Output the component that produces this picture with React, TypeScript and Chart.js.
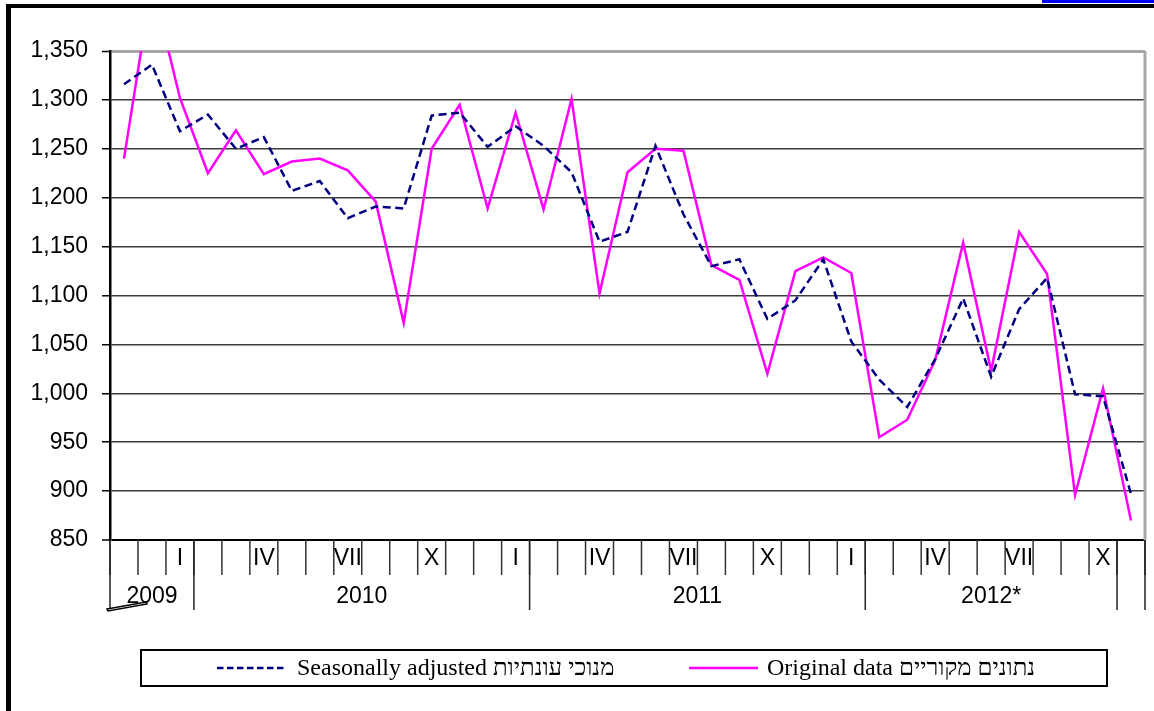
import React, { useEffect, useRef } from 'react';
import { Chart, registerables } from 'chart.js';

Chart.register(...registerables);

// Month position labels (roman numerals every third month)
const monthLabels: string[] = [
  '', '', 'I', '', '', 'IV', '', '', 'VII', '', '', 'X',
  '', '', 'I', '', '', 'IV', '', '', 'VII', '', '', 'X',
  '', '', 'I', '', '', 'IV', '', '', 'VII', '', '', 'X', '',
];

// Year groups and how many months each spans
const yearNames: string[] = ['2009', '2010', '2011', '2012*', ''];
const yearSpans: number[] = [3, 12, 12, 9, 1];

// Seasonally adjusted series (dashed navy)
const seasonallyAdjusted: number[] = [
  1316, 1336, 1268, 1285, 1250, 1262, 1207, 1217, 1179, 1191, 1189, 1284,
  1287, 1252, 1273, 1253, 1226, 1155, 1165, 1253, 1183, 1130, 1137, 1076,
  1095, 1137, 1053, 1014, 986, 1035, 1097, 1017, 1086, 1118, 999, 997, 897,
];

// Original data series (solid magenta)
const originalData: number[] = [
  1240, 1420, 1302, 1225, 1269, 1224, 1237, 1240, 1228, 1196, 1072, 1250,
  1295, 1189, 1287, 1188, 1301, 1102, 1226, 1250, 1248, 1131, 1116, 1020,
  1125, 1139, 1123, 955, 973, 1034, 1154, 1023, 1165, 1122, 896, 1005, 870,
];

const yMin = 850;
const yMax = 1350;
const yStep = 50;

const seriesNames: string[] = [
  'Seasonally adjusted מנוכי עונתיות',
  'Original data נתונים מקוריים',
];

const NAVY = '#000080';
const MAGENTA = '#ff00ff';
const SANS = '"Liberation Sans", Arial, sans-serif';
const SERIF = '"Liberation Serif", "Times New Roman", serif';
const AXIS_FONT = 23;

const axisPlugin = {
  id: 'customAxis',
  afterDraw(chart: any) {
    const ctx: CanvasRenderingContext2D = chart.ctx;
    const xs = chart.scales.x;
    const area = chart.chartArea;
    const c0 = xs.getPixelForValue(0);
    const w = xs.getPixelForValue(1) - c0;
    const start = c0 - w / 2;
    const bottom = area.bottom;
    const line = (x1: number, y1: number, x2: number, y2: number) => {
      ctx.beginPath();
      ctx.moveTo(x1, y1);
      ctx.lineTo(x2, y2);
      ctx.stroke();
    };
    ctx.save();

    // right plot border
    ctx.strokeStyle = '#a6a6a6';
    ctx.lineWidth = 3;
    line(area.right, area.top, area.right, bottom);

    // month tick marks
    ctx.strokeStyle = '#333';
    ctx.lineWidth = 1.5;
    for (let i = 0; i <= monthLabels.length; i++) {
      const x = start + i * w;
      line(x, bottom, x, bottom + 35);
    }

    // month labels
    ctx.fillStyle = '#000';
    ctx.font = `${AXIS_FONT}px ${SANS}`;
    ctx.textAlign = 'center';
    ctx.textBaseline = 'middle';
    monthLabels.forEach((lab, i) => {
      if (lab) ctx.fillText(lab, xs.getPixelForValue(i), bottom + 19);
    });

    // year separators and labels
    let idx = 0;
    ctx.strokeStyle = '#222';
    line(start, bottom, start, bottom + 68);
    yearNames.forEach((name, g) => {
      const span = yearSpans[g];
      const x0 = start + idx * w;
      const x1 = start + (idx + span) * w;
      line(x1, bottom, x1, bottom + 70);
      if (name) ctx.fillText(name, (x0 + x1) / 2, bottom + 57);
      idx += span;
    });

    // small mark at the bottom-left
    ctx.strokeStyle = '#000';
    ctx.lineWidth = 1.5;
    ctx.beginPath();
    ctx.moveTo(start - 3, bottom + 69);
    ctx.lineTo(start + 36, bottom + 62);
    ctx.lineTo(start + 37, bottom + 64);
    ctx.lineTo(start - 2, bottom + 71);
    ctx.closePath();
    ctx.stroke();

    // legend box
    const lx = 141, ly = 650, lw = 966, lh = 36;
    ctx.strokeStyle = '#000';
    ctx.lineWidth = 2;
    ctx.strokeRect(lx, ly, lw, lh);
    const my = ly + lh / 2;
    ctx.strokeStyle = NAVY;
    ctx.lineWidth = 2.5;
    ctx.setLineDash([6.5, 3.5]);
    line(217, my, 287, my);
    ctx.setLineDash([]);
    ctx.strokeStyle = MAGENTA;
    ctx.lineWidth = 2.5;
    line(689, my, 758, my);
    ctx.fillStyle = '#000';
    ctx.font = `24px ${SERIF}`;
    ctx.textAlign = 'left';
    ctx.textBaseline = 'middle';
    ctx.fillText(seriesNames[0], 297, my + 1);
    ctx.fillText(seriesNames[1], 767, my + 1);

    ctx.restore();
  },
};

export default function App() {
  const ref = useRef<HTMLCanvasElement>(null);

  useEffect(() => {
    document.body.style.margin = '0';
    const canvas = ref.current;
    if (!canvas) return;
    const chart = new Chart(canvas, {
      type: 'line',
      data: {
        labels: monthLabels,
        datasets: [
          {
            label: seriesNames[0],
            data: seasonallyAdjusted,
            borderColor: NAVY,
            borderWidth: 2.5,
            borderDash: [8, 4.5],
            pointRadius: 0,
            tension: 0,
            fill: false,
          },
          {
            label: seriesNames[1],
            data: originalData,
            borderColor: MAGENTA,
            borderWidth: 2.5,
            pointRadius: 0,
            tension: 0,
            fill: false,
          },
        ],
      },
      options: {
        responsive: false,
        animation: false,
        layout: { padding: { top: 51, right: 9, bottom: 171, left: 0 } },
        plugins: {
          legend: { display: false },
          tooltip: { enabled: false },
        },
        scales: {
          x: {
            type: 'category',
            offset: true,
            display: false,
            grid: { display: false },
          },
          y: {
            min: yMin,
            max: yMax,
            afterFit: (scale: any) => {
              scale.width = 110;
            },
            border: { display: true, color: '#000', width: 2.5 },
            grid: {
              color: (c: any) =>
                c.tick && c.tick.value === yMax ? '#a6a6a6' : c.tick && c.tick.value === yMin ? '#000' : '#3c3c3c',
              lineWidth: (c: any) =>
                c.tick && c.tick.value === yMax ? 3 : c.tick && c.tick.value === yMin ? 2 : 1.5,
              tickColor: '#000',
              tickWidth: 1.5,
              tickLength: 8,
            },
            ticks: {
              stepSize: yStep,
              padding: 14,
              color: '#000',
              font: { family: SANS, size: AXIS_FONT },
              callback: (v: any) => Number(v).toLocaleString('en-US'),
            },
          },
        },
      },
      plugins: [axisPlugin],
    });
    return () => chart.destroy();
  }, []);

  return (
    <div style={{ position: 'fixed', left: 0, top: 0, width: 1154, height: 711, background: '#fff', overflow: 'hidden' }}>
      <canvas ref={ref} width={1154} height={711} style={{ position: 'absolute', left: 0, top: 0 }} />
      <div style={{ position: 'absolute', left: 6, top: 4, right: 0, height: 4, background: '#000' }} />
      <div style={{ position: 'absolute', left: 6, top: 4, width: 5, bottom: 0, background: '#000' }} />
      <div style={{ position: 'absolute', left: 1042, top: 0, right: 0, height: 3, background: '#0000ff' }} />
    </div>
  );
}
